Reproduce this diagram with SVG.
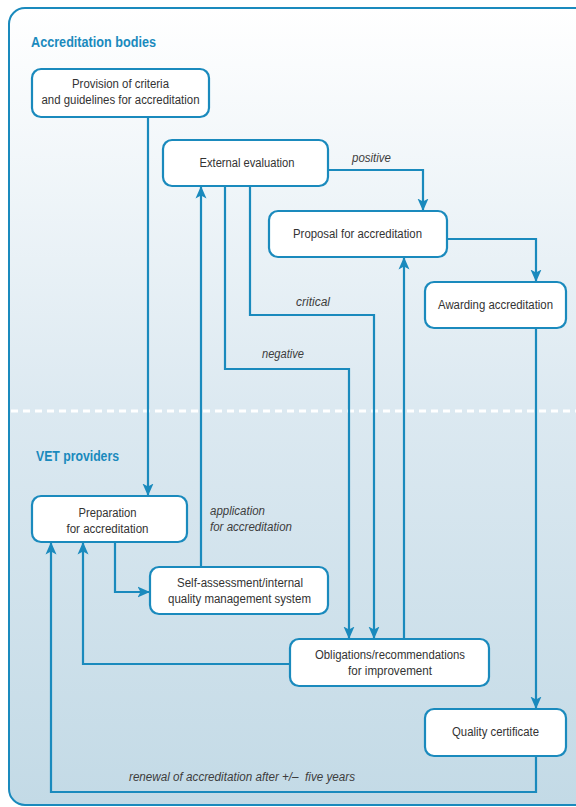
<svg xmlns="http://www.w3.org/2000/svg" width="576" height="807" viewBox="0 0 576 807">
<defs>
<linearGradient id="bg" x1="0" y1="0" x2="0" y2="1">
<stop offset="0" stop-color="#ffffff"/>
<stop offset="0.5" stop-color="#dce9f1"/>
<stop offset="1" stop-color="#c3dae6"/>
</linearGradient>
<marker id="arr" markerUnits="userSpaceOnUse" markerWidth="14" markerHeight="14" viewBox="0 0 14 14" refX="12.5" refY="7" orient="auto">
<path d="M0,1.5 L12.5,7 L0,12.5 L3,7 Z" fill="#1a8abd"/>
</marker>
<style>
.box{fill:#ffffff;stroke:#1a8abd;stroke-width:2.2}
.t{font-family:"Liberation Sans",Arial,sans-serif;font-size:12.5px;fill:#333333;text-anchor:middle}
.lbl{font-family:"Liberation Sans",Arial,sans-serif;font-size:12.5px;font-style:italic;fill:#3d3d3d}
.hdr{font-family:"Liberation Sans",Arial,sans-serif;font-size:14.5px;font-weight:bold;fill:#1a8abd}
.c{fill:none;stroke:#1a8abd;stroke-width:2.2}
</style>
</defs>
<rect x="0" y="0" width="576" height="807" fill="#ffffff"/>
<rect x="9" y="8" width="620" height="797" rx="16" ry="16" fill="url(#bg)" stroke="#1a8abd" stroke-width="2"/>
<line x1="11" y1="411" x2="576" y2="411" stroke="#ffffff" stroke-width="3" stroke-dasharray="7,5"/>
<text class="hdr" x="31" y="47" textLength="125" lengthAdjust="spacingAndGlyphs">Accreditation bodies</text>
<text class="hdr" x="36" y="461" textLength="83" lengthAdjust="spacingAndGlyphs">VET providers</text>

<g id="connectors">
<path class="c" d="M148,117 V496" marker-end="url(#arr)"/>
<path class="c" d="M328,170 H423 V211" marker-end="url(#arr)"/>
<path class="c" d="M447,239 H536 V282" marker-end="url(#arr)"/>
<path class="c" d="M536,328 V709" marker-end="url(#arr)"/>
<path class="c" d="M536,756 V792 H51 V542" marker-end="url(#arr)"/>
<path class="c" d="M290,664 H83 V542" marker-end="url(#arr)"/>
<path class="c" d="M115,542 V592 H150" marker-end="url(#arr)"/>
<path class="c" d="M201,567 V186" marker-end="url(#arr)"/>
<path class="c" d="M225,186 V369 H349 V639" marker-end="url(#arr)"/>
<path class="c" d="M250,186 V315 H374 V639" marker-end="url(#arr)"/>
<path class="c" d="M404,639 V257" marker-end="url(#arr)"/>
<text class="lbl" x="352" y="162" textLength="39" lengthAdjust="spacingAndGlyphs">positive</text>
<text class="lbl" x="296" y="306" textLength="34" lengthAdjust="spacingAndGlyphs">critical</text>
<text class="lbl" x="262" y="358" textLength="42" lengthAdjust="spacingAndGlyphs">negative</text>
<text class="lbl" x="210" y="515" textLength="55" lengthAdjust="spacingAndGlyphs">application</text>
<text class="lbl" x="210" y="531" textLength="82" lengthAdjust="spacingAndGlyphs">for accreditation</text>
<text class="lbl" x="129" y="781" xml:space="preserve" textLength="226" lengthAdjust="spacingAndGlyphs">renewal of accreditation after +/–  five years</text>
</g>

<g id="provision">
<rect class="box" x="32" y="69" width="177" height="48" rx="9"/>
<text class="t" x="120.5" y="88" textLength="97" lengthAdjust="spacingAndGlyphs">Provision of criteria</text>
<text class="t" x="120.5" y="104" textLength="158" lengthAdjust="spacingAndGlyphs">and guidelines for accreditation</text>
</g>
<g id="external">
<rect class="box" x="163" y="140" width="165" height="46" rx="9"/>
<text class="t" x="247" y="167" textLength="95" lengthAdjust="spacingAndGlyphs">External evaluation</text>
</g>
<g id="proposal">
<rect class="box" x="269" y="211" width="178" height="46" rx="9"/>
<text class="t" x="357.5" y="238" textLength="129" lengthAdjust="spacingAndGlyphs">Proposal for accreditation</text>
</g>
<g id="awarding">
<rect class="box" x="425" y="282" width="141" height="46" rx="9"/>
<text class="t" x="495.5" y="309" textLength="115" lengthAdjust="spacingAndGlyphs">Awarding accreditation</text>
</g>
<g id="preparation">
<rect class="box" x="32" y="496" width="155" height="46" rx="9"/>
<text class="t" x="107.5" y="517" textLength="58" lengthAdjust="spacingAndGlyphs">Preparation</text>
<text class="t" x="107.5" y="533" textLength="82" lengthAdjust="spacingAndGlyphs">for accreditation</text>
</g>
<g id="selfassessment">
<rect class="box" x="150" y="567" width="178" height="47" rx="9"/>
<text class="t" x="240" y="587" textLength="126" lengthAdjust="spacingAndGlyphs">Self-assessment/internal</text>
<text class="t" x="239.5" y="603" textLength="143" lengthAdjust="spacingAndGlyphs">quality management system</text>
</g>
<g id="obligations">
<rect class="box" x="290" y="639" width="199" height="47" rx="9"/>
<text class="t" x="390" y="659" textLength="150" lengthAdjust="spacingAndGlyphs">Obligations/recommendations</text>
<text class="t" x="390" y="675" textLength="84" lengthAdjust="spacingAndGlyphs">for improvement</text>
</g>
<g id="quality">
<rect class="box" x="425" y="709" width="141" height="47" rx="9"/>
<text class="t" x="495.5" y="736" textLength="87" lengthAdjust="spacingAndGlyphs">Quality certificate</text>
</g>
</svg>
